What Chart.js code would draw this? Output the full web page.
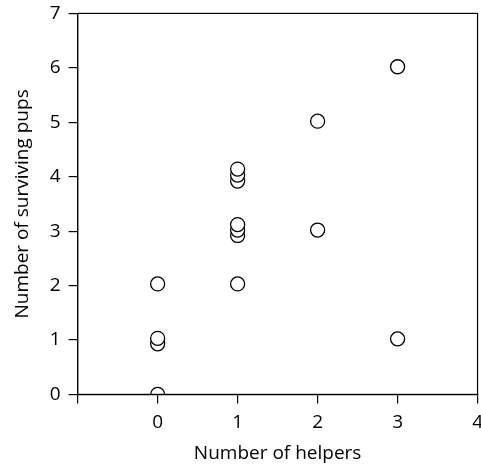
<!DOCTYPE html>
<html>
<head>
<meta charset="utf-8">
<script src="https://cdn.jsdelivr.net/npm/chart.js@4"></script>
<style>
  html, body { margin: 0; padding: 0; background: #fff; overflow: hidden; }
  #wrap { position: relative; width: 491px; height: 477px; margin-top: -6px; }
</style>
</head>
<body>
<div id="wrap"><canvas id="pupsChart"></canvas></div>
<script>
// helpers vs surviving pups
const helpers = [0, 0, 0, 0, 1, 1, 1, 1, 1, 1, 1, 2, 2, 3, 3];
const pups = [0.0, 0.93, 1.03, 2.03, 2.03, 2.92, 3.02, 3.12, 3.92, 4.03, 4.14, 3.02, 5.02, 1.02, 6.02];
const xTicks = [-1, 0, 1, 2, 3, 4];
const yTicks = [0, 1, 2, 3, 4, 5, 6, 7];

const frame = {
    id: 'frame',
    afterDraw(chart) {
        const a = chart.chartArea;
        const c = chart.ctx;
        c.save();
        c.strokeStyle = '#000';
        c.lineWidth = 1.2;
        c.strokeRect(a.left, a.top, a.right - a.left, a.bottom - a.top);
        c.restore();
    }
};

document.addEventListener("DOMContentLoaded", function () {
    const ctx = document.getElementById('pupsChart');
    const font = { family: "'Open Sans', sans-serif", size: 19 };
    new Chart(ctx, {
        type: 'scatter',
        data: {
            datasets: [{
                data: helpers.map((h, i) => ({ x: h, y: pups[i] })),
                pointRadius: 7,
                pointBorderWidth: 1.3,
                pointBorderColor: '#000',
                pointBackgroundColor: '#fff',
                pointHoverRadius: 7
            }]
        },
        options: {
            responsive: true,
            maintainAspectRatio: false,
            animation: false,
            layout: { padding: { top: 2, left: 7, bottom: 2 } },
            plugins: { legend: { display: false }, tooltip: { enabled: false } },
            scales: {
                x: {
                    type: 'linear',
                    min: -1, max: 4,
                    afterBuildTicks: s => { s.ticks = xTicks.map(v => ({ value: v })); },
                    ticks: {
                        color: '#000', font: font, padding: 8, maxRotation: 0,
                        callback: v => v < 0 ? '' : v
                    },
                    grid: { drawOnChartArea: false, tickLength: 9, color: '#000', lineWidth: 1.2 },
                    border: { color: '#000', width: 1.2 },
                    title: { display: true, text: 'Number of helpers', color: '#000', font: font, padding: { top: 0 } }
                },
                y: {
                    min: 0, max: 7,
                    afterBuildTicks: s => { s.ticks = yTicks.map(v => ({ value: v })); },
                    ticks: { color: '#000', font: font, padding: 8 },
                    grid: { drawOnChartArea: false, tickLength: 9, color: '#000', lineWidth: 1.2 },
                    border: { color: '#000', width: 1.2 },
                    title: { display: true, text: 'Number of surviving pups', color: '#000', font: font, padding: { bottom: 8 } }
                }
            }
        },
        plugins: [frame]
    });
});
</script>
</body>
</html>
